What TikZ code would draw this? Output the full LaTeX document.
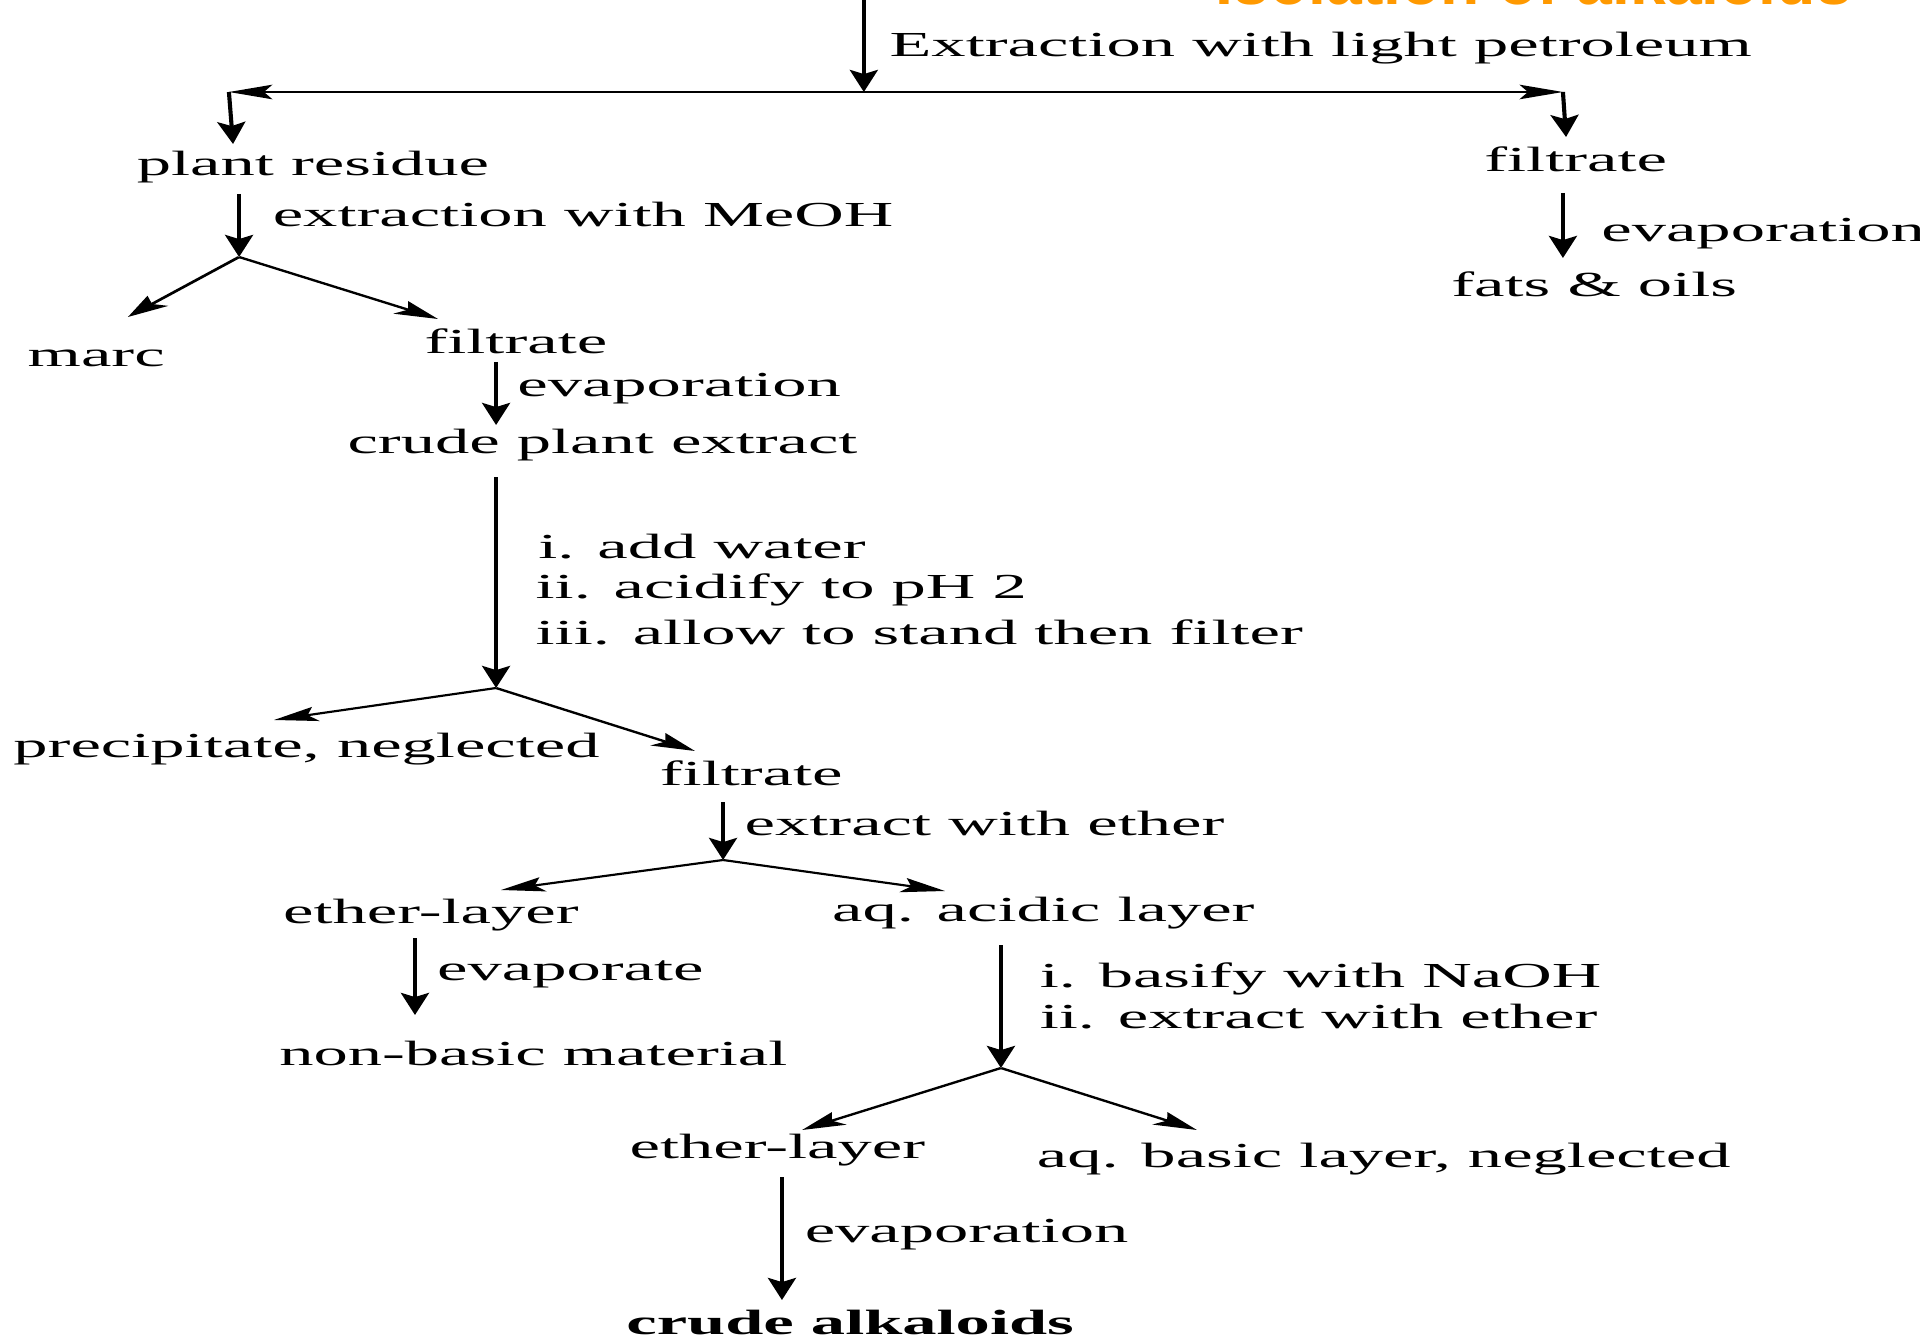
\documentclass[tikz,border=0pt]{standalone}
\usepackage{fontspec}
\setmainfont{Liberation Serif}
\newfontfamily\headfont{Liberation Sans}
\usetikzlibrary{arrows.meta}
\definecolor{headorange}{RGB}{255,153,0}
\tikzset{
  product/.style = {anchor=base west, inner sep=0pt, font=\fontsize{10}{12}\selectfont},
  reagent/.style = {product},
  flow/.style = {-{Stealth[length=6.3pt, width=4.1pt, inset=1.2pt]}, line width=0.6pt},
}

\begin{document}
\begin{tikzpicture}
\useasboundingbox (0,0) rectangle (19.2,-13.37);
\clip (0,0) rectangle (19.2,-13.37);

% slide heading, mostly above the frame
\node[anchor=base west, inner sep=0pt, text=headorange,
      font=\headfont\bfseries\fontsize{18.3}{22}\selectfont] (heading) at (12.15,-0.05)
  {Isolation of alkaloids};

% the whole scheme is drawn narrow and widened afterwards
\begin{scope}[transform canvas={xscale=1.95}]

% light petroleum extraction
\coordinate (feed) at (4.43,0.1);
\coordinate (hub) at (4.43,-0.92);
\coordinate (lcorner) at (1.174,-0.92);
\coordinate (rcorner) at (8.015,-0.92);
\coordinate (ltip) at (1.195,-1.44);
\coordinate (rtip) at (8.031,-1.37);
\node[reagent] (petrol) at (4.555,-0.57) {Extraction with light petroleum};
\draw[flow] (feed) -- (hub);
\draw[flow] (hub) -- (lcorner);
\draw[flow] (hub) -- (rcorner);
\draw[flow] (lcorner) -- (ltip);
\draw[flow] (rcorner) -- (rtip);

% filtrate -> fats & oils
\node[product] (filtR) at (7.605,-1.72) {filtrate};
\coordinate (fatsin) at (8.015,-1.93);
\coordinate (fatsout) at (8.015,-2.58);
\draw[flow] (fatsin) -- (fatsout);
\node[reagent] (evapR) at (8.205,-2.42) {evaporation};
\node[product] (fats) at (7.436,-2.97) {fats \& oils};

% plant residue -> MeOH extract
\node[product] (residue) at (0.695,-1.76) {plant residue};
\coordinate (resin) at (1.226,-1.94);
\coordinate (split1) at (1.226,-2.57);
\coordinate (marcin) at (0.656,-3.17);
\coordinate (filtin) at (2.246,-3.19);
\node[reagent] (meoh) at (1.392,-2.27) {extraction with MeOH};
\draw[flow] (resin) -- (split1);
\draw[flow] (split1) -- (marcin);
\draw[flow] (split1) -- (filtin);
\node[product] (marc) at (0.135,-3.67) {marc};
\node[product] (filtM) at (2.170,-3.54) {filtrate};

\coordinate (evin) at (2.544,-3.62);
\coordinate (evout) at (2.544,-4.25);
\draw[flow] (evin) -- (evout);
\node[reagent] (evapM) at (2.646,-3.97) {evaporation};
\node[product] (crude) at (1.775,-4.54) {crude plant extract};

% acid treatment
\coordinate (acidin) at (2.544,-4.77);
\coordinate (split2) at (2.544,-6.88);
\coordinate (precin) at (1.405,-7.20);
\coordinate (filt2in) at (3.564,-7.51);
\draw[flow] (acidin) -- (split2);
\node[reagent] (acid1) at (2.754,-5.58) {i. add water};
\node[reagent] (acid2) at (2.740,-5.98) {ii. acidify to pH 2};
\node[reagent] (acid3) at (2.740,-6.44) {iii. allow to stand then filter};
\draw[flow] (split2) -- (precin);
\draw[flow] (split2) -- (filt2in);
\node[product] (precip) at (0.062,-7.57) {precipitate, neglected};
\node[product] (filtL) at (3.377,-7.85) {filtrate};

% first ether extraction
\coordinate (ethin) at (3.708,-8.02);
\coordinate (split3) at (3.708,-8.60);
\coordinate (etherAin) at (2.569,-8.90);
\coordinate (acidicin) at (4.846,-8.91);
\draw[flow] (ethin) -- (split3);
\node[reagent] (ether1) at (3.812,-8.35) {extract with ether};
\draw[flow] (split3) -- (etherAin);
\draw[flow] (split3) -- (acidicin);
\node[product] (etherA) at (1.445,-9.23) {ether-layer};
\node[product] (acidic) at (4.260,-9.21) {aq. acidic layer};

\coordinate (nbin) at (2.128,-9.38);
\coordinate (nbout) at (2.128,-10.15);
\draw[flow] (nbin) -- (nbout);
\node[reagent] (evapA) at (2.235,-9.80) {evaporate};
\node[product] (nonbasic) at (1.425,-10.65) {non-basic material};

% basification and second ether extraction
\coordinate (basein) at (5.133,-9.45);
\coordinate (split4) at (5.133,-10.68);
\coordinate (etherBin) at (4.113,-11.30);
\coordinate (basicin) at (6.138,-11.30);
\draw[flow] (basein) -- (split4);
\node[reagent] (base1) at (5.325,-9.87) {i. basify with NaOH};
\node[reagent] (base2) at (5.325,-10.28) {ii. extract with ether};
\draw[flow] (split4) -- (etherBin);
\draw[flow] (split4) -- (basicin);
\node[product] (etherB) at (3.222,-11.58) {ether-layer};
\node[product] (basic) at (5.310,-11.67) {aq. basic layer, neglected};

\coordinate (alkin) at (4.010,-11.77);
\coordinate (alkout) at (4.010,-13.00);
\draw[flow] (alkin) -- (alkout);
\node[reagent] (evapB) at (4.120,-12.42) {evaporation};
\node[product, font=\fontsize{10}{12}\selectfont\bfseries] (alkaloids) at (3.205,-13.34) {crude alkaloids};

\end{scope}
\end{tikzpicture}
\end{document}
